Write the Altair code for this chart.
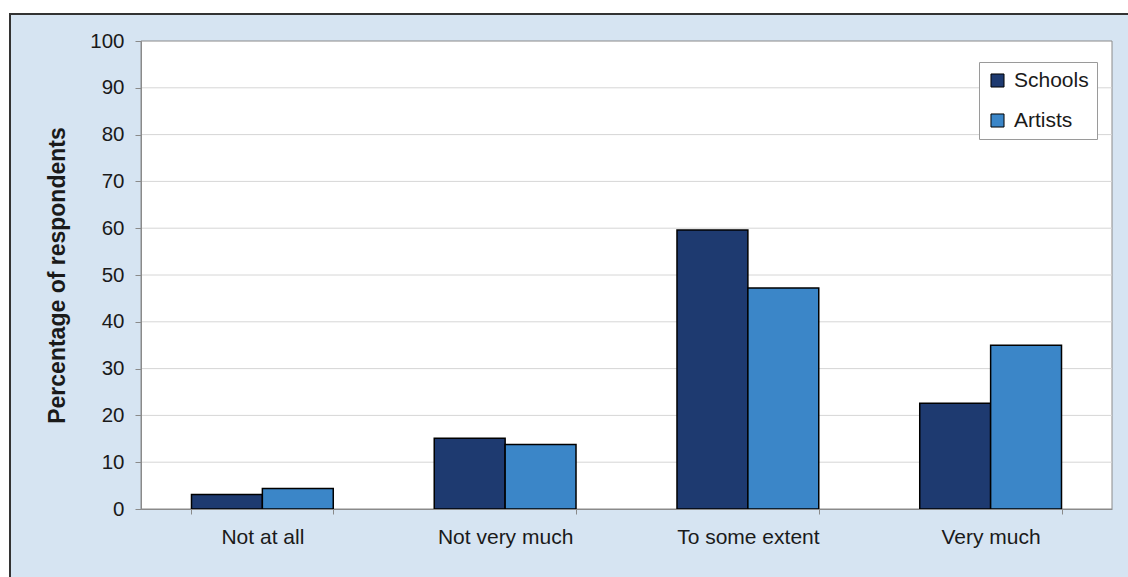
import altair as alt
import pandas as pd

# Survey responses, percentage of respondents per answer
categories = ["Not at all", "Not very much", "To some extent", "Very much"]
series = ["Schools", "Artists"]
schools = [3.1, 15.1, 59.6, 22.6]
artists = [4.4, 13.8, 47.2, 35.0]
y_ticks = list(range(0, 101, 10))
grid_values = list(range(10, 100, 10))
colors = ["#1e3a70", "#3b86c8"]

W, H = 971, 468
PAD = {"left": 141, "top": 41, "right": 16, "bottom": 68}
FONT = "Liberation Sans"

rows = []
for cat, s, a in zip(categories, schools, artists):
    rows.append({"Response": cat, "Group": "Schools", "Percent": s})
    rows.append({"Response": cat, "Group": "Artists", "Percent": a})
df = pd.DataFrame(rows)
one = pd.DataFrame({"k": [0]})

y_enc = alt.Y(
    "Percent:Q",
    scale=alt.Scale(domain=[0, 100], nice=False),
    axis=alt.Axis(
        values=y_ticks, title="Percentage of respondents", grid=False,
        tickSize=6, labelPadding=11, labelFontSize=20.5, labelFont=FONT,
        labelColor="#1a1a1a", titleFont=FONT, titleFontSize=23,
        titleFontWeight="bold", titleColor="#1a1a1a", titlePadding=20,
        domainColor="#8a8a8a", tickColor="#8a8a8a", zindex=1,
    ),
)

# light-blue panel with a dark frame behind everything
panel = alt.Chart(one).mark_rect(fill="#d6e4f2", stroke="#333333", strokeWidth=2).encode(
    x=alt.value(-131), y=alt.value(-27), x2=alt.value(W + 200), y2=alt.value(H + 200)
)

# white plotting area with a grey border
plot_bg = alt.Chart(one).mark_rect(fill="white", stroke="#8a8a8a", strokeWidth=1).encode(
    x=alt.value(0), y=alt.value(0), x2=alt.value(W), y2=alt.value(H)
)

grid = alt.Chart(pd.DataFrame({"Percent": grid_values})).mark_rule(
    color="#d6d6d6", strokeWidth=1
).encode(y=y_enc)

bars = alt.Chart(df).mark_bar(stroke="black", strokeWidth=1.5).encode(
    x=alt.X(
        "Response:N", sort=categories,
        scale=alt.Scale(paddingInner=0.416, paddingOuter=0.208),
        axis=alt.Axis(
            title=None, labelAngle=0, tickBand="extent", tickSize=5,
            labelPadding=12, labelFontSize=21, labelFont=FONT,
            labelColor="#1a1a1a", grid=False, domainColor="#8a8a8a",
            tickColor="#8a8a8a", zindex=1,
        ),
    ),
    xOffset=alt.XOffset("Group:N", sort=series, scale=alt.Scale(paddingInner=0, paddingOuter=0)),
    y=y_enc,
    color=alt.Color(
        "Group:N", sort=series,
        scale=alt.Scale(domain=series, range=colors),
        legend=alt.Legend(
            title=None, orient="none", legendX=838, legendY=21,
            fillColor="white", strokeColor="#9a9a9a", padding=8,
            labelFont=FONT, labelFontSize=21, labelColor="#1a1a1a",
            symbolType="square", symbolSize=170, symbolStrokeColor="black",
            symbolStrokeWidth=1, rowPadding=18, labelOffset=6,
        ),
    ),
)

chart = alt.layer(panel, plot_bg, grid, bars).properties(
    width=W, height=H, padding=PAD,
    autosize=alt.AutoSizeParams(type="none"),
    background="white",
).configure_view(strokeWidth=0)

chart.save("out.html", embed_options={"renderer": "svg", "actions": False})
